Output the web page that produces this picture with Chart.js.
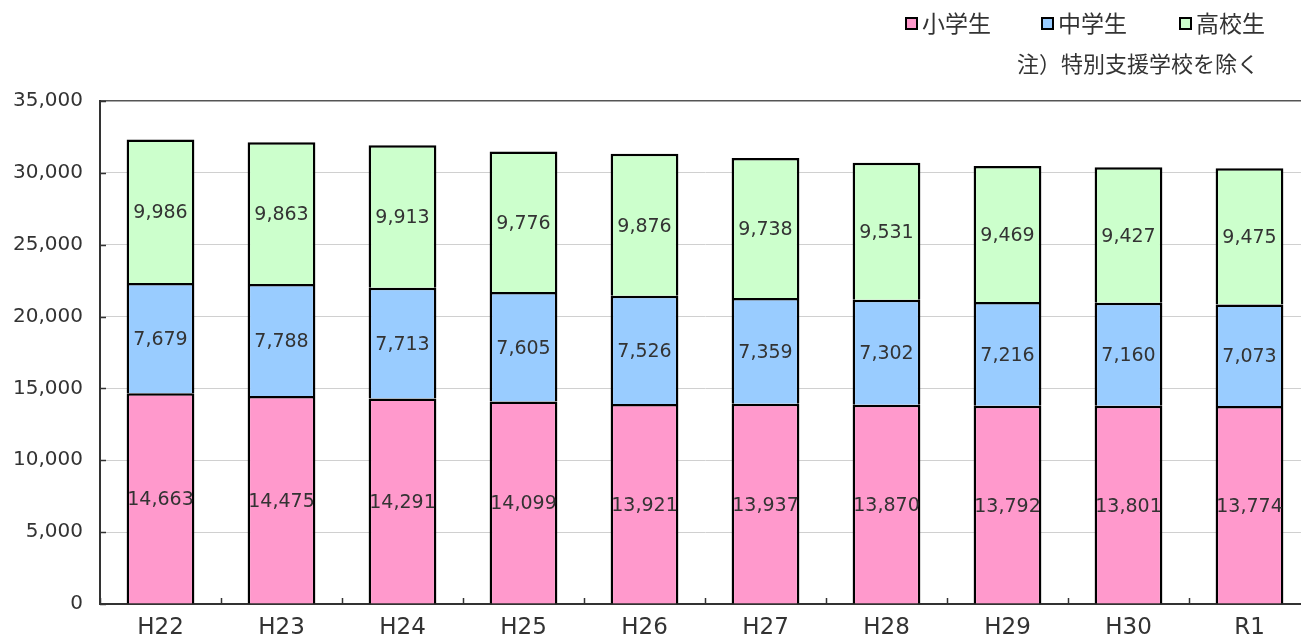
<!DOCTYPE html>
<html>
<head>
<meta charset="utf-8">
<script src="https://cdn.jsdelivr.net/npm/chart.js@4/dist/chart.umd.min.js"></script>
<style>
  html, body { margin: 0; padding: 0; background: #fff; overflow: hidden; }
  #wrap { width: 1312px; height: 640px; position: relative; }
</style>
</head>
<body>
<div id="wrap"><canvas id="c"></canvas></div>
<script>
const categories = ['H22','H23','H24','H25','H26','H27','H28','H29','H30','R1'];
const elementary = [14663,14475,14291,14099,13921,13937,13870,13792,13801,13774];
const juniorHigh = [7679,7788,7713,7605,7526,7359,7302,7216,7160,7073];
const highSchool = [9986,9863,9913,9776,9876,9738,9531,9469,9427,9475];
const seriesNames = ['小学生','中学生','高校生'];
const seriesColors = ['#FF99CC','#99CCFF','#CCFFCC'];
const noteText = '注）特別支援学校を除く';
const yMax = 35000, yStep = 5000;

const fmt = v => v.toLocaleString('en-US');

const labelPlugin = {
  id: 'valueLabels',
  afterDatasetsDraw(chart) {
    const ctx = chart.ctx;
    ctx.save();
    ctx.font = '19px "DejaVu Sans"';
    ctx.fillStyle = '#333';
    ctx.textAlign = 'center';
    ctx.textBaseline = 'middle';
    chart.data.datasets.forEach((ds, di) => {
      const meta = chart.getDatasetMeta(di);
      meta.data.forEach((el, i) => {
        ctx.fillText(fmt(ds.data[i]), el.x, (el.y + el.base) / 2 + 2);
      });
    });
    ctx.restore();
  }
};

const tickPlugin = {
  id: 'innerTicks',
  afterDraw(chart) {
    const ctx = chart.ctx;
    const xs = chart.scales.x, ys = chart.scales.y;
    const a = chart.chartArea;
    ctx.save();
    ctx.strokeStyle = '#333';
    ctx.lineWidth = 1.5;
    const n = categories.length;
    const w = (xs.getPixelForValue(1) - xs.getPixelForValue(0));
    for (let i = 1; i <= n; i++) {
      const x = Math.round(xs.getPixelForValue(i - 1) - w / 2) + 0.5;
      ctx.beginPath(); ctx.moveTo(x, a.bottom); ctx.lineTo(x, a.bottom - 6); ctx.stroke();
    }
    ys.ticks.forEach(t => {
      const y = Math.round(ys.getPixelForValue(t.value)) + 0.5;
      ctx.beginPath(); ctx.moveTo(a.left, y); ctx.lineTo(a.left + 6, y); ctx.stroke();
    });
    // legend
    const legendX = [906, 1042, 1180];
    chart.data.datasets.forEach((ds, i) => {
      const bx = legendX[i], by = 18;
      ctx.fillStyle = ds.backgroundColor;
      ctx.fillRect(bx, by, 11, 11);
      ctx.strokeStyle = '#000';
      ctx.lineWidth = 2;
      ctx.strokeRect(bx, by, 11, 11);
      ctx.fillStyle = '#333';
      ctx.font = '23px "Noto Sans CJK JP"';
      ctx.textAlign = 'left';
      ctx.textBaseline = 'middle';
      ctx.fillText(ds.label, bx + 16, by + 5);
    });
    ctx.font = '22px "Noto Sans CJK JP"';
    ctx.fillStyle = '#333';
    ctx.textAlign = 'left';
    ctx.textBaseline = 'middle';
    ctx.fillText(noteText, 1017, 64);
    ctx.restore();
  }
};

const dataArrays = [elementary, juniorHigh, highSchool];
new Chart(document.getElementById('c'), {
  type: 'bar',
  data: {
    labels: categories,
    datasets: dataArrays.map((d, i) => ({
      label: seriesNames[i],
      data: d,
      backgroundColor: seriesColors[i],
      borderColor: '#000',
      borderWidth: { top: 2.5, left: 2.5, right: 2.5, bottom: 0 },
      borderSkipped: false,
      inflateAmount: 0,
      barPercentage: 0.56,
      categoryPercentage: 1
    }))
  },
  options: {
    responsive: true,
    maintainAspectRatio: false,
    animation: false,
    layout: { padding: { top: 101, right: 2, left: 0, bottom: 0 } },
    plugins: { legend: { display: false }, tooltip: { enabled: false } },
    scales: {
      x: {
        stacked: true,
        grid: { display: false, drawTicks: false },
        border: { color: '#333', width: 2 },
        ticks: { font: { family: 'DejaVu Sans', size: 23 }, color: '#333', padding: 10 },
        afterFit(s) { s.height = 36; }
      },
      y: {
        stacked: true,
        min: 0, max: yMax,
        grid: {
          drawTicks: false,
          color: ctx => (ctx.tick && ctx.tick.value === yMax) ? '#555' : '#d0d0d0',
          lineWidth: ctx => (ctx.tick && ctx.tick.value === yMax) ? 1.5 : 1
        },
        border: { color: '#333', width: 2 },
        ticks: {
          stepSize: yStep,
          font: { family: 'DejaVu Sans', size: 20 },
          color: '#333',
          padding: 17,
          callback: v => fmt(v)
        },
        afterFit(s) { s.width = 100; }
      }
    }
  },
  plugins: [labelPlugin, tickPlugin]
});
</script>
</body>
</html>
